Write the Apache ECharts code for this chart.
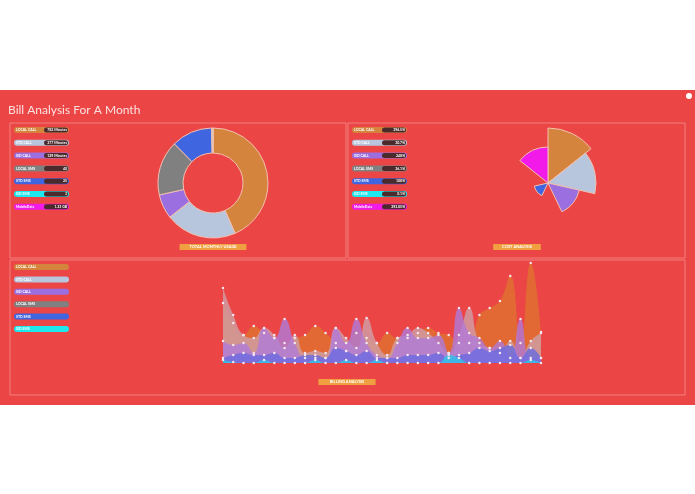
<!DOCTYPE html><html><head><meta charset="utf-8">
<script src="https://cdn.jsdelivr.net/npm/echarts@6/dist/echarts.min.js"></script>
<style>html,body{margin:0;padding:0;background:#fff}#c{width:695px;height:494px}</style></head><body><div id="c"></div>
<script>
const categories=['LOCAL CALL','STD CALL','ISD CALL','LOCAL SMS','STD SMS','ISD SMS','MobileData'];
const colors=['#d4843c','#b7c6dc','#9b6fe0','#808080','#3f66e0','#1ee8ee','#f21ae8'];
const usageValues=[782,377,129,290,215,8,0];
const usageLabels=['782 Minutes','377 Minutes','129 Minutes','40','25','3','1.33 GB'];
const costValues=[55,48,32,0,14,0,36];
const costLabels=['396.5%','30.7%','248%','36.1%','100%','0.1%','293.05%'];
const days=Array.from({length:32},(_,i)=>String(i+1));
const localCall=[60,40,28,37,30,25,20,25,28,37,30,20,12,30,25,20,30,25,25,30,35,30,28,20,20,48,55,62,87,20,100,31];
const stdCall=[75,48,28,25,35,28,15,28,10,12,10,35,25,15,45,20,8,25,28,35,30,20,10,28,55,20,15,10,22,5,22,30];
const isdCall=[22,18,20,10,35,25,44,20,5,5,5,35,20,44,20,8,5,20,35,25,25,28,10,55,30,25,15,22,5,44,5,5];
const localSms=[5,8,10,8,8,10,5,5,8,8,5,15,12,8,12,5,5,5,8,8,8,10,5,8,10,15,12,15,18,5,15,5];
const isdSms=[3,1,0,0,3,0,0,0,0,3,0,0,3,0,0,3,0,0,0,0,0,0,8,5,0,0,0,0,0,0,3,0];
const lineSeries=[[localCall,'#e07030'],[stdCall,'#d0a0a8'],[isdCall,'#b07ad8'],[localSms,'#6a6ae0'],[isdSms,'#30c8e8']];
const bottomLegend=['LOCAL CALL','STD CALL','ISD CALL','LOCAL SMS','STD SMS','ISD SMS'];

const g=[];
g.push({type:'rect',shape:{x:0,y:90,width:695,height:315},style:{fill:'#ec4545'},z:-10});
g.push({type:'text',x:8,y:104,style:{text:'Bill Analysis For A Month',fill:'#fbe0e0',font:'12px Lato'}});
g.push({type:'circle',shape:{cx:689,cy:96,r:3},style:{fill:'#fff'}});
[[10,123,336,135],[348,123,337,135],[10,260,675,135]].forEach(b=>g.push({type:'rect',shape:{x:b[0],y:b[1],width:b[2],height:b[3]},style:{fill:'none',stroke:'#f08080',lineWidth:1}}));
function badge(x,y,name,col,val){
  g.push({type:'rect',shape:{x:x,y:y,width:55,height:6,r:3},style:{fill:col}});
  g.push({type:'text',x:x+2,y:y+1,style:{text:name,fill:'#fff',font:'bold 3.5px Lato'}});
  if(val!==null){g.push({type:'rect',shape:{x:x+30,y:y+0.5,width:24,height:5,r:2.5},style:{fill:'#4a2a2a'}});
  g.push({type:'text',x:x+53,y:y+1,style:{text:val,fill:'#fff',font:'bold 3.5px Lato',align:'right'}});}
}
categories.forEach((c,i)=>badge(14,127+i*12.8,c,colors[i],usageLabels[i]));
categories.forEach((c,i)=>badge(352,127+i*12.8,c,colors[i],costLabels[i]));
bottomLegend.forEach((c,i)=>badge(14,264+i*12.4,c,colors[i],null));
function tag(cx,y,t){g.push({type:'rect',shape:{x:cx-t.length*1.6-3,y:y,width:t.length*3.2+6,height:6},style:{fill:'#f0a040'}});
 g.push({type:'text',x:cx,y:y+1,style:{text:t,fill:'#fff',font:'bold 4px Lato',align:'center'}});}
tag(213,244,'TOTAL MONTHLY USAGE');tag(517,244,'COST ANALYSIS');tag(347,379,'BILLING ANALYSIS');

const opt={animation:false,backgroundColor:'#fff',graphic:g,
 grid:{left:223,top:263,width:318,height:100},
 xAxis:{type:'category',data:days,boundaryGap:false,axisLine:{show:false},axisTick:{show:false},axisLabel:{show:false}},
 yAxis:{type:'value',min:0,max:100,splitLine:{show:false},axisLabel:{show:false}},
 series:[
  {type:'pie',center:[213,183],radius:[30,55],startAngle:90,label:{show:false},itemStyle:{borderColor:'#f3c0b0',borderWidth:1},
   data:categories.map((c,i)=>({name:c,value:usageValues[i],itemStyle:{color:colors[i]}}))},
  {type:'pie',roseType:'area',center:[548,183],radius:[0,55],startAngle:90,label:{show:false},itemStyle:{borderColor:'#f3c0b0',borderWidth:1},
   data:categories.map((c,i)=>({name:c,value:costValues[i],itemStyle:{color:colors[i]}}))}
 ].concat(lineSeries.map(s=>({type:'line',smooth:true,data:s[0],symbol:'circle',symbolSize:2.5,
   itemStyle:{color:'#f4e6ee'},lineStyle:{width:0},areaStyle:{color:s[1],opacity:0.8}})))
};
echarts.init(document.getElementById('c')).setOption(opt);
</script></body></html>
